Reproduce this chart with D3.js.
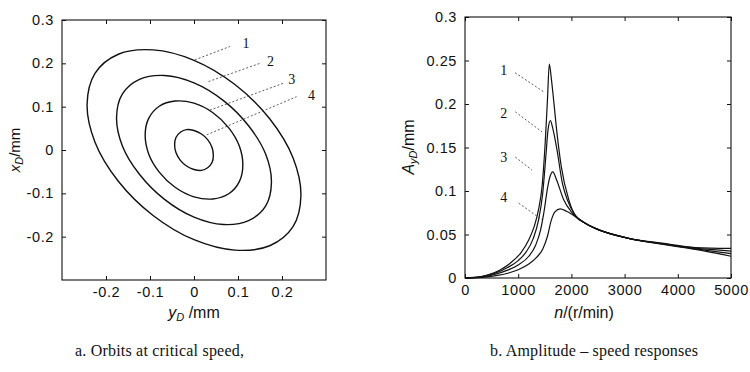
<!DOCTYPE html>
<html>
<head>
<meta charset="utf-8">
<script src="https://cdn.jsdelivr.net/npm/d3@7"></script>
<style>
body { margin: 0; background: #fff; }
svg { display: block; }
text { font-family: "Liberation Sans", Arial, sans-serif; fill: #111; }
.serif { font-family: "Liberation Serif", "Times New Roman", serif; }
</style>
</head>
<body>
<svg id="chart" width="750" height="372"></svg>
<script>

// ---- data: orbits (y_D, x_D) in mm
let orbit1 = [[0.243,-0.105],[0.225,-0.177],[0.172,-0.221],[0.093,-0.231],[0,-0.207],[-0.093,-0.151],[-0.172,-0.072],[-0.225,0.018],
	[-0.243,0.105],[-0.225,0.177],[-0.172,0.221],[-0.093,0.231],[0,0.207],[0.093,0.151],[0.172,0.072],[0.225,-0.018]]
let orbit2 = [[0.176,-0.075],[0.163,-0.129],[0.124,-0.163],[0.067,-0.172],[0,-0.155],[-0.067,-0.114],[-0.124,-0.056],[-0.163,0.010],
	[-0.176,0.075],[-0.163,0.129],[-0.124,0.163],[-0.067,0.172],[0,0.155],[0.067,0.114],[0.124,0.056],[0.163,-0.010]]
let orbit3 = [[0.111,-0.035],[0.103,-0.073],[0.079,-0.101],[0.043,-0.113],[0,-0.108],[-0.043,-0.086],[-0.079,-0.051],[-0.103,-0.009],
	[-0.111,0.035],[-0.103,0.073],[-0.079,0.101],[-0.043,0.113],[0,0.108],[0.043,0.086],[0.079,0.051],[0.103,0.009]]
let orbit4 = [[0.044,-0.012],[0.041,-0.029],[0.031,-0.041],[0.017,-0.047],[0,-0.045],[-0.017,-0.037],[-0.031,-0.024],[-0.041,-0.006],
	[-0.044,0.012],[-0.041,0.029],[-0.031,0.041],[-0.017,0.047],[0,0.045],[0.017,0.037],[0.031,0.024],[0.041,0.006]]

// ---- data: amplitude - speed responses (r/min, mm)
let resp1 = [[0,0],[250,0.001],[450,0.004],[650,0.009],[850,0.017],[1050,0.029],[1200,0.044],[1300,0.059],[1380,0.078],
	[1450,0.106],[1510,0.158],[1550,0.205],[1585,0.246],[1625,0.228],[1665,0.205],[1730,0.166],[1810,0.128],[1950,0.09],
	[2075,0.0715],[2260,0.063],[2450,0.057],[3075,0.0456],[3700,0.0388],[4330,0.0328],[5000,0.025]]
let resp2 = [[0,0],[300,0.0015],[550,0.005],[800,0.012],[1000,0.02],[1150,0.03],[1280,0.045],[1380,0.066],[1460,0.097],
	[1520,0.14],[1560,0.17],[1605,0.181],[1650,0.172],[1730,0.147],[1830,0.109],[1925,0.0897],[2075,0.072],[2260,0.063],
	[2450,0.057],[3075,0.0456],[3700,0.0392],[4330,0.0335],[5000,0.028]]
let resp3 = [[0,0],[300,0.001],[550,0.004],[800,0.009],[1000,0.015],[1200,0.025],[1330,0.038],[1420,0.055],[1490,0.078],
	[1550,0.103],[1600,0.117],[1650,0.122],[1720,0.113],[1855,0.09],[2000,0.076],[2260,0.063],[2450,0.057],[3075,0.0456],
	[3700,0.0395],[4330,0.0343],[5000,0.031]]
let resp4 = [[0,0],[300,0.0007],[550,0.0025],[820,0.0058],[1000,0.0095],[1200,0.016],[1350,0.024],[1460,0.033],[1550,0.048],
	[1620,0.066],[1690,0.076],[1790,0.0795],[1900,0.077],[2075,0.0705],[2260,0.063],[2450,0.057],[3075,0.0456],[3700,0.040],
	[4330,0.035],[5000,0.034]]

let curveNames = ['1', '2', '3', '4']

// label text position and leader ends, in data units
let orbitLabelAt = [[0.118,0.246],[0.174,0.206],[0.222,0.163],[0.267,0.127]]
let orbitLeader = [[[0.002,0.208],[0.082,0.239]],[[0.033,0.158],[0.15,0.2]],[[0.036,0.092],[0.203,0.154]],[[0.029,0.035],[0.233,0.123]]]
let respLabelAt = [[727,0.239],[727,0.189],[727,0.139],[727,0.093]]
let respLeader = [[[940,0.236],[1480,0.214]],[[945,0.191],[1447,0.168]],[[945,0.139],[1259,0.124]],[[1010,0.086],[1447,0.067]]]

// ticks
let orbitXTicks = [-0.2, -0.1, 0, 0.1, 0.2]
let orbitYTicks = [-0.2, -0.1, 0, 0.1, 0.2, 0.3]
let speedTicks = [0, 1000, 2000, 3000, 4000, 5000]
let ampTicks = [0, 0.05, 0.1, 0.15, 0.2, 0.25, 0.3]

let captionA = 'a.  Orbits at critical speed,'
let captionB = 'b.  Amplitude \u2013 speed responses'

const svg = d3.select('#chart')
const fmt = d => String(d)

function drawFrame(g, x, y, xt, yt){
	let [x0, x1] = x.range()
	let [y0, y1] = y.range()
	g.append('rect')
		.attr('x', x0).attr('y', y1)
		.attr('width', x1 - x0).attr('height', y0 - y1)
		.attr('fill', 'none').attr('stroke', '#111').attr('stroke-width', 1.1)

	let bottom = g.append('g').attr('transform', `translate(0,${y0})`)
		.call(d3.axisBottom(x).tickValues(xt).tickFormat(fmt).tickSizeInner(-4).tickSizeOuter(0).tickPadding(7))
	let top = g.append('g').attr('transform', `translate(0,${y1})`)
		.call(d3.axisTop(x).tickValues(xt).tickFormat('').tickSizeInner(-4).tickSizeOuter(0))
	let left = g.append('g').attr('transform', `translate(${x0},0)`)
		.call(d3.axisLeft(y).tickValues(yt).tickFormat(fmt).tickSizeInner(-4).tickSizeOuter(0).tickPadding(8))
	let right = g.append('g').attr('transform', `translate(${x1},0)`)
		.call(d3.axisRight(y).tickValues(yt).tickFormat('').tickSizeInner(-4).tickSizeOuter(0))

	for(let a of [bottom, top, left, right]){
		a.select('.domain').remove()
		a.selectAll('line').attr('stroke', '#111')
		a.selectAll('text').attr('font-size', 14.5).attr('fill', '#111')
			.attr('letter-spacing', 0.6)
			.attr('font-family', '"Liberation Sans", Arial, sans-serif')
	}
}

function drawLabels(g, x, y, at, leaders){
	g.selectAll('.lead')
		.data(leaders)
		.enter()
		.append('line')
		.attr('x1', d => x(d[0][0])).attr('y1', d => y(d[0][1]))
		.attr('x2', d => x(d[1][0])).attr('y2', d => y(d[1][1]))
		.attr('stroke', '#333').attr('stroke-width', 0.8).attr('stroke-dasharray', '2,2')
	g.selectAll('.lbl')
		.data(at)
		.enter()
		.append('text')
		.attr('class', 'serif')
		.attr('x', d => x(d[0])).attr('y', d => y(d[1]))
		.attr('dy', '0.35em')
		.attr('text-anchor', 'middle')
		.attr('font-size', 14)
		.text((d, i) => curveNames[i])
}

// ---- a. orbits
let ox = d3.scaleLinear().domain([-0.3, 0.3]).range([62, 326])
let oy = d3.scaleLinear().domain([-0.3, 0.3]).range([280, 20])
let ga = svg.append('g')
drawFrame(ga, ox, oy, orbitXTicks, orbitYTicks)

let orbitLine = d3.line()
	.x(d => ox(d[0]))
	.y(d => oy(d[1]))
	.curve(d3.curveCatmullRomClosed.alpha(0.5))

ga.selectAll('.orbit')
	.data([orbit1, orbit2, orbit3, orbit4])
	.enter()
	.append('path')
	.attr('d', orbitLine)
	.attr('fill', 'none')
	.attr('stroke', '#111')
	.attr('stroke-width', 1.4)

drawLabels(ga, ox, oy, orbitLabelAt, orbitLeader)

ga.append('text')
	.attr('transform', 'translate(20,150) rotate(-90)')
	.attr('text-anchor', 'middle')
	.attr('font-size', 15)
	.call(t => {
		t.append('tspan').attr('font-style', 'italic').text('x')
		t.append('tspan').attr('font-style', 'italic').attr('font-size', 11).attr('dy', 3).text('D')
		t.append('tspan').attr('dy', -3).text('/mm')
	})

ga.append('text')
	.attr('x', 194).attr('y', 318)
	.attr('text-anchor', 'middle')
	.attr('font-size', 16)
	.call(t => {
		t.append('tspan').attr('font-style', 'italic').text('y')
		t.append('tspan').attr('font-style', 'italic').attr('font-size', 11).attr('dy', 3).text('D')
		t.append('tspan').attr('dy', -3).text(' /mm')
	})

// ---- b. amplitude - speed
let sx = d3.scaleLinear().domain([0, 5000]).range([465, 731])
let sy = d3.scaleLinear().domain([0, 0.3]).range([278, 17])
let gb = svg.append('g')
drawFrame(gb, sx, sy, speedTicks, ampTicks)

let respLine = d3.line()
	.x(d => sx(d[0]))
	.y(d => sy(d[1]))
	.curve(d3.curveMonotoneX)

gb.selectAll('.resp')
	.data([resp1, resp2, resp3, resp4])
	.enter()
	.append('path')
	.attr('d', respLine)
	.attr('fill', 'none')
	.attr('stroke', '#111')
	.attr('stroke-width', 1.2)

drawLabels(gb, sx, sy, respLabelAt, respLeader)

gb.append('text')
	.attr('transform', 'translate(414,147) rotate(-90)')
	.attr('text-anchor', 'middle')
	.attr('font-size', 16)
	.call(t => {
		t.append('tspan').attr('font-style', 'italic').text('A')
		t.append('tspan').attr('font-style', 'italic').attr('font-size', 11).attr('dy', 3).text('yD')
		t.append('tspan').attr('dy', -3).text('/mm')
	})

gb.append('text')
	.attr('x', 584).attr('y', 318)
	.attr('text-anchor', 'middle')
	.attr('font-size', 16)
	.call(t => {
		t.append('tspan').attr('font-style', 'italic').text('n')
		t.append('tspan').text('/(r/min)')
	})

// captions
svg.append('text').attr('class', 'serif')
	.attr('x', 75).attr('y', 356).attr('font-size', 16).attr('letter-spacing', 0.2)
	.text(captionA)
svg.append('text').attr('class', 'serif')
	.attr('x', 490).attr('y', 356).attr('font-size', 16).attr('letter-spacing', 0.2)
	.text(captionB)

</script>
</body>
</html>
